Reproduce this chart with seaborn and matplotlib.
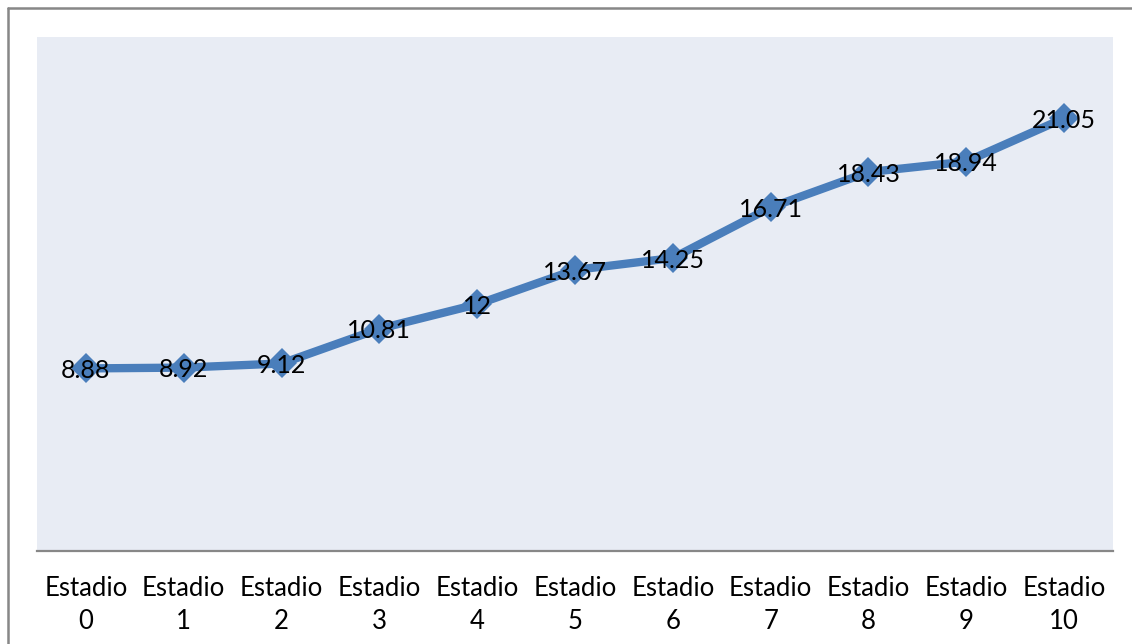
import matplotlib
matplotlib.use("Agg")
import matplotlib.pyplot as plt
from matplotlib.lines import Line2D
import seaborn as sns
import pandas as pd

stages = ["Estadio\n0", "Estadio\n1", "Estadio\n2", "Estadio\n3", "Estadio\n4",
          "Estadio\n5", "Estadio\n6", "Estadio\n7", "Estadio\n8", "Estadio\n9",
          "Estadio\n10"]
values = [8.88, 8.92, 9.12, 10.81, 12, 13.67, 14.25, 16.71, 18.43, 18.94, 21.05]
value_labels = ["8.88", "8.92", "9.12", "10.81", "12", "13.67", "14.25",
                "16.71", "18.43", "18.94", "21.05"]

sns.set_theme(style="white")
plt.rcParams["font.family"] = ["Lato", "DejaVu Sans"]

W, H = 1132, 644
fig = plt.figure(figsize=(W / 100, H / 100), dpi=100)
fig.patch.set_facecolor("white")

ax = fig.add_axes([37 / W, (H - 551) / H, 1076 / W, (551 - 37) / H])
ax.set_facecolor("#E8ECF4")

df = pd.DataFrame({"stage": stages, "value": values})
line_color = "#4A7EBB"
sns.lineplot(data=df, x="stage", y="value", sort=False, ax=ax,
             color=line_color, linewidth=6, marker="D", markersize=15,
             markeredgewidth=0, markerfacecolor=line_color)

for i, (v, lab) in enumerate(zip(values, value_labels)):
    ax.annotate(lab, (i, v), xytext=(0, -1.5), textcoords="offset points",
                ha="center", va="center", fontsize=18, color="black")

ax.set_xlim(-0.5, len(stages) - 0.5)
ax.set_ylim(0, 25)
ax.set_yticks([])
ax.set_xlabel("")
ax.set_ylabel("")
ax.tick_params(axis="x", length=0, pad=18, labelsize=18.5, colors="black")
for lbl in ax.get_xticklabels():
    lbl.set_multialignment("center")
    lbl.set_linespacing(1.38)

for side in ["top", "left", "right"]:
    ax.spines[side].set_visible(False)
ax.spines["bottom"].set_color("#878787")
ax.spines["bottom"].set_linewidth(1.6)

# outer chart frame (left and top edges)
fig.add_artist(Line2D([7.5 / W, 7.5 / W], [0, 1 - 7.5 / H], transform=fig.transFigure,
                      color="#878787", linewidth=1.8))
fig.add_artist(Line2D([7.5 / W, 1], [1 - 7.5 / H, 1 - 7.5 / H], transform=fig.transFigure,
                      color="#878787", linewidth=1.8))

fig.savefig("out.png", dpi=100)
